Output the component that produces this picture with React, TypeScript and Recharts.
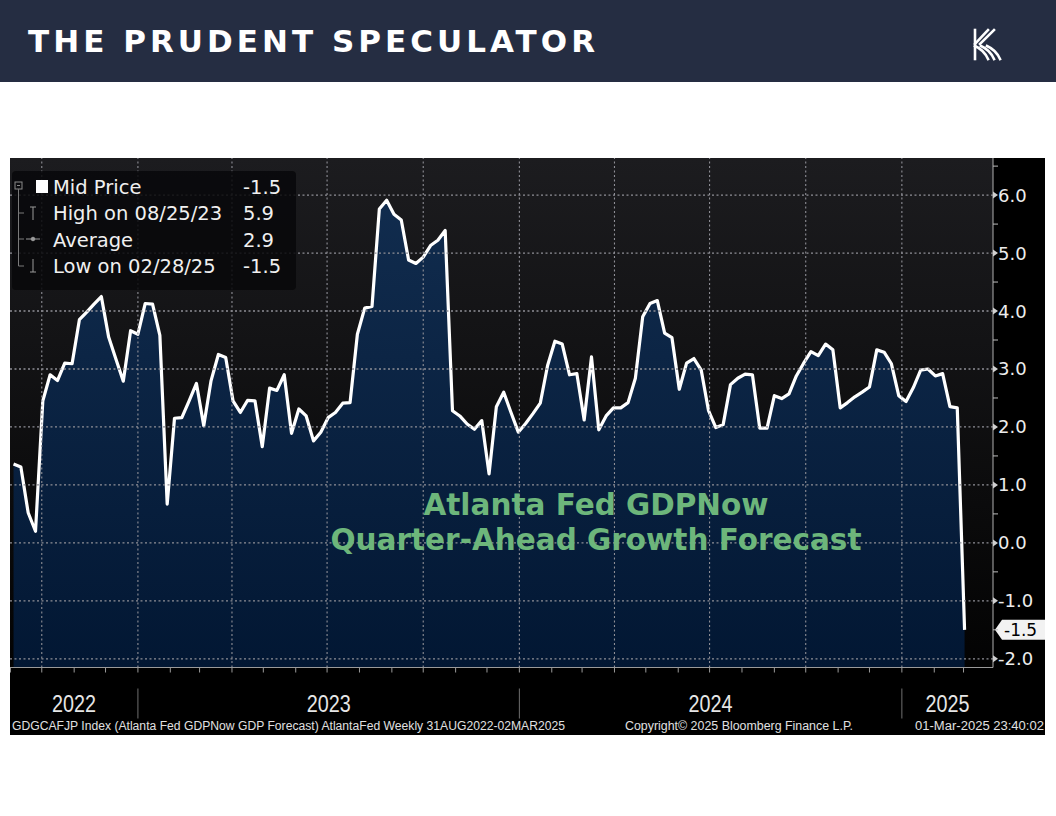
import React from "react";
import {
  AreaChart,
  Area,
  XAxis,
  YAxis,
  CartesianGrid,
  ReferenceLine,
} from "recharts";

// weekly GDPNow readings, first observation week of 2022-09-04
const gdpNow = [
  1.36, 1.31, 0.52, 0.2, 2.45, 2.9, 2.8, 3.1, 3.09, 3.85, 3.98, 4.12, 4.25,
  3.55, 3.17, 2.79, 3.66, 3.6, 4.13, 4.12, 3.58, 0.67, 2.15, 2.16, 2.45, 2.75,
  2.02, 2.8, 3.25, 3.2, 2.45, 2.25, 2.46, 2.45, 1.66, 2.67, 2.63, 2.9, 1.89,
  2.31, 2.19, 1.76, 1.91, 2.16, 2.25, 2.41, 2.42, 3.6, 4.05, 4.08, 5.76, 5.91,
  5.67, 5.57, 4.88, 4.82, 4.93, 5.13, 5.22, 5.39, 2.28, 2.19, 2.05, 1.96, 2.11,
  1.19, 2.35, 2.6, 2.25, 1.91, 2.06, 2.23, 2.41, 3.06, 3.48, 3.43, 2.9, 2.92,
  2.12, 3.21, 1.95, 2.19, 2.33, 2.33, 2.42, 2.84, 3.9, 4.13, 4.18, 3.62, 3.54,
  2.65, 3.1, 3.18, 2.98, 2.28, 1.99, 2.04, 2.73, 2.84, 2.91, 2.9, 1.98, 1.98,
  2.54, 2.49, 2.57, 2.88, 3.1, 3.3, 3.23, 3.43, 3.33, 2.33, 2.42, 2.52, 2.6,
  2.69, 3.33, 3.29, 3.09, 2.54, 2.44, 2.68, 2.98, 3.0, 2.88, 2.92, 2.35, 2.33,
  -1.5,
];

const yTicks = [
  -2, -1.5, -1, -0.5, 0, 0.5, 1, 1.5, 2, 2.5, 3, 3.5, 4, 4.5, 5, 5.5, 6, 6.5,
];
const yGrid = [-2, -1, 0, 1, 2, 3, 4, 5, 6];
const yearLabels = ["2022", "2023", "2024", "2025"];

const legendLabels = ["Mid Price", "High on 08/25/23", "Average", "Low on 02/28/25"];
const legendValues = ["-1.5", "5.9", "2.9", "-1.5"];

const footerLeft =
  "GDGCAFJP Index (Atlanta Fed GDPNow GDP Forecast) AtlantaFed  Weekly 31AUG2022-02MAR2025";
const footerMid = "Copyright\u00a9 2025 Bloomberg Finance L.P.";
const footerRight = "01-Mar-2025 23:40:02";

// x axis is days since the first weekly observation
const START = Date.UTC(2022, 8, 4);
const dayOf = (y: number, m: number) => (Date.UTC(y, m, 1) - START) / 86400000;
const X_DOMAIN: [number, number] = [-3.4, 937.2];
const Y_DOMAIN: [number, number] = [-2.15, 6.64];

const data = gdpNow.map((v, i) => ({ t: i * 7, v }));

const monthTicks: number[] = [];
const quarterLines: number[] = [];
const januaries = new Set<number>();
for (let k = 0; k <= 30; k++) {
  const y = 2022 + Math.floor((8 + k) / 12);
  const m = (8 + k) % 12;
  const t = dayOf(y, m);
  monthTicks.push(t);
  if (m % 3 === 0) quarterLines.push(t);
  if (m === 0) januaries.add(t);
}
const yearEdges = [X_DOMAIN[0], dayOf(2023, 0), dayOf(2024, 0), dayOf(2025, 0), X_DOMAIN[1]];
const yearCenters = yearLabels.map((_, i) => (yearEdges[i] + yearEdges[i + 1]) / 2);

const GRID = "#8f8f96";
const DASH = "2 2.5";

const MonthTick = ({ x, y, payload }: any) => (
  <g>
    <line x1={x} x2={x} y1={y} y2={y + 5} stroke="#9a9a9a" />
    {januaries.has(payload.value) && (
      <line x1={x} x2={x} y1={y + 21} y2={y + 51} stroke="#6f6f6f" />
    )}
  </g>
);

const YearTick = ({ x, y, index }: any) => (
  <text
    x={x}
    y={y + 24.5}
    textAnchor="middle"
    fill="#e6e6e6"
    fontSize={23}
    fontFamily="'Liberation Sans Narrow', 'Liberation Sans', sans-serif"
    textLength={44}
    lengthAdjust="spacingAndGlyphs"
  >
    {yearLabels[index]}
  </text>
);

const ValueTick = ({ x, y, payload }: any) => {
  const v = payload.value;
  if (!Number.isInteger(v)) {
    return <line x1={x} x2={x + 5} y1={y} y2={y} stroke="#bdbdbd" />;
  }
  return (
    <g>
      <path d={`M${x},${y - 3.5}L${x + 5},${y}L${x},${y + 3.5}Z`} fill="#d0d0d0" />
      <text
        x={x + 5}
        y={y}
        dy="0.36em"
        fill="#ececec"
        fontSize={18}
        fontFamily="'DejaVu Sans', sans-serif"
      >
        {v.toFixed(1)}
      </text>
    </g>
  );
};

const LastCallout = ({ viewBox }: any) => {
  const x = viewBox.x + viewBox.width + 2;
  const y = viewBox.y;
  return (
    <g>
      <path
        d={`M${x},${y}L${x + 7},${y - 10}H${x + 50}V${y + 10}H${x + 7}Z`}
        fill="#f2f2f2"
      />
      <text
        x={x + 9}
        y={y}
        dy="0.36em"
        fill="#000"
        fontSize={17}
        fontFamily="'DejaVu Sans', sans-serif"
      >
        {legendValues[0]}
      </text>
    </g>
  );
};

const Logo = () => (
  <g stroke="#fff" strokeWidth={2.6} fill="none" strokeLinecap="square">
    <path d="M975,44 L988,30" />
    <path d="M980,44 L994,30" />
    <path d="M975,46 Q984,50 988,59" />
    <path d="M981,46 Q990,50 994,59" />
    <path d="M987,46 Q996,50 1000,59" />
    <path d="M975,30 L975,59" />
  </g>
);

export default function App() {
  const rowY = [36, 62.3, 88.6, 115];
  return (
    <div
      style={{
        position: "absolute",
        left: 0,
        top: 0,
        width: 1056,
        height: 816,
        background: "#fff",
        overflow: "hidden",
      }}
    >
      <svg width={1056} height={82} style={{ position: "absolute", left: 0, top: 0 }}>
        <rect width={1056} height={82} fill="#252d42" />
        <text
          x={28}
          y={52}
          fill="#fff"
          fontSize={31}
          fontWeight="bold"
          fontFamily="'DejaVu Sans', sans-serif"
          textLength={567}
          lengthAdjust="spacing"
        >
          THE PRUDENT SPECULATOR
        </text>
        <Logo />
      </svg>

      <div
        style={{
          position: "absolute",
          left: 10,
          top: 158,
          width: 1035,
          height: 577,
          background: "#000",
        }}
      >
        <AreaChart
          width={1035}
          height={577}
          data={data}
          margin={{ top: 0, right: 0, bottom: 0, left: 0 }}
        >
          <defs>
            <linearGradient id="plotBg" x1="0" y1="0" x2="0" y2="1">
              <stop offset="0%" stopColor="#1c1c1f" />
              <stop offset="100%" stopColor="#030303" />
            </linearGradient>
            <linearGradient id="areaFill" x1="0" y1="0" x2="0" y2="1">
              <stop offset="0%" stopColor="#112c4e" />
              <stop offset="100%" stopColor="#021733" />
            </linearGradient>
          </defs>
          <CartesianGrid
            xAxisId="m"
            fill="url(#plotBg)"
            fillOpacity={1}
            horizontal={false}
            vertical={false}
          />
          <XAxis
            xAxisId="m"
            type="number"
            dataKey="t"
            domain={X_DOMAIN}
            allowDataOverflow
            ticks={monthTicks}
            interval={0}
            tick={<MonthTick />}
            tickLine={false}
            tickSize={0}
            tickMargin={0}
            axisLine={{ stroke: "#9a9a9a" }}
            height={20}
          />
          <XAxis
            xAxisId="y"
            type="number"
            dataKey="t"
            domain={X_DOMAIN}
            allowDataOverflow
            ticks={yearCenters}
            interval={0}
            tick={<YearTick />}
            tickLine={false}
            tickSize={0}
            tickMargin={0}
            axisLine={false}
            height={47.5}
          />
          <YAxis
            orientation="right"
            type="number"
            domain={Y_DOMAIN}
            allowDataOverflow
            ticks={yTicks}
            interval={0}
            tick={<ValueTick />}
            tickLine={false}
            tickSize={0}
            tickMargin={0}
            axisLine={{ stroke: "#b0b0b0" }}
            width={52}
          />
          <Area
            xAxisId="m"
            type="linear"
            dataKey="v"
            stroke="#ffffff"
            strokeWidth={3.2}
            strokeLinejoin="round"
            fill="url(#areaFill)"
            fillOpacity={1}
            baseValue={Y_DOMAIN[0]}
            dot={false}
            activeDot={false}
            isAnimationActive={false}
          />
          {yGrid.map((v) => (
            <ReferenceLine
              key={`h${v}`}
              xAxisId="m"
              y={v}
              stroke={GRID}
              strokeWidth={1.3}
              strokeDasharray={DASH}
            />
          ))}
          {quarterLines.map((t) => (
            <ReferenceLine
              key={`v${t}`}
              xAxisId="m"
              x={t}
              stroke={GRID}
              strokeWidth={1.1}
              strokeDasharray={DASH}
            />
          ))}
          <ReferenceLine
            xAxisId="m"
            y={gdpNow[gdpNow.length - 1]}
            stroke="none"
            label={(p: any) => <LastCallout {...p} />}
          />
        </AreaChart>

        <svg
          width={1035}
          height={577}
          style={{ position: "absolute", left: 0, top: 0, pointerEvents: "none" }}
        >
          {/* legend box */}
          <rect x={2} y={13} width={284} height={119} rx={4} fill="rgba(8,8,10,0.86)" />
          <rect x={5} y={24} width={7} height={7} fill="none" stroke="#8a8a8a" />
          <line x1={7} x2={10} y1={27.5} y2={27.5} stroke="#8a8a8a" />
          <line x1={8.5} x2={8.5} y1={31} y2={108} stroke="#7a7a7a" />
          {[55, 81, 108].map((cy) => (
            <line key={cy} x1={8.5} x2={14} y1={cy} y2={cy} stroke="#7a7a7a" />
          ))}
          <rect x={26} y={22} width={12} height={13} fill="#fff" />
          <g stroke="#9a9a9a" strokeWidth={1}>
            <line x1={23} x2={23} y1={49} y2={62} />
            <line x1={20} x2={26} y1={49} y2={49} />
            <line x1={16} x2={30} y1={81} y2={81} />
            <circle cx={23} cy={81} r={1.8} fill="#9a9a9a" />
            <line x1={23} x2={23} y1={101} y2={114} />
            <line x1={20} x2={26} y1={114} y2={114} />
          </g>
          {legendLabels.map((s, i) => (
            <text
              key={s}
              x={43}
              y={rowY[i]}
              fill="#f0f0f0"
              fontSize={19.5}
              fontFamily="'DejaVu Sans', sans-serif"
            >
              {s}
            </text>
          ))}
          {legendValues.map((s, i) => (
            <text
              key={i}
              x={233}
              y={rowY[i]}
              fill="#f0f0f0"
              fontSize={19.5}
              fontFamily="'DejaVu Sans', sans-serif"
            >
              {s}
            </text>
          ))}

          {/* annotation */}
          <g
            fill="#6db67b"
            fontSize={29.5}
            fontWeight="bold"
            fontFamily="'DejaVu Sans', sans-serif"
            textAnchor="middle"
          >
            <text x={586} y={357}>Atlanta Fed GDPNow</text>
            <text x={586} y={392}>Quarter-Ahead Growth Forecast</text>
          </g>

          {/* footer */}
          <g
            fill="#e0e0e0"
            fontSize={12.5}
            fontFamily="'Liberation Sans Narrow', 'Liberation Sans', sans-serif"
          >
            <text x={2} y={572} textLength={553} lengthAdjust="spacingAndGlyphs">
              {footerLeft}
            </text>
            <text x={615} y={572} textLength={228} lengthAdjust="spacingAndGlyphs">
              {footerMid}
            </text>
            <text x={905} y={572} textLength={129} lengthAdjust="spacingAndGlyphs">
              {footerRight}
            </text>
          </g>
        </svg>
      </div>
    </div>
  );
}
